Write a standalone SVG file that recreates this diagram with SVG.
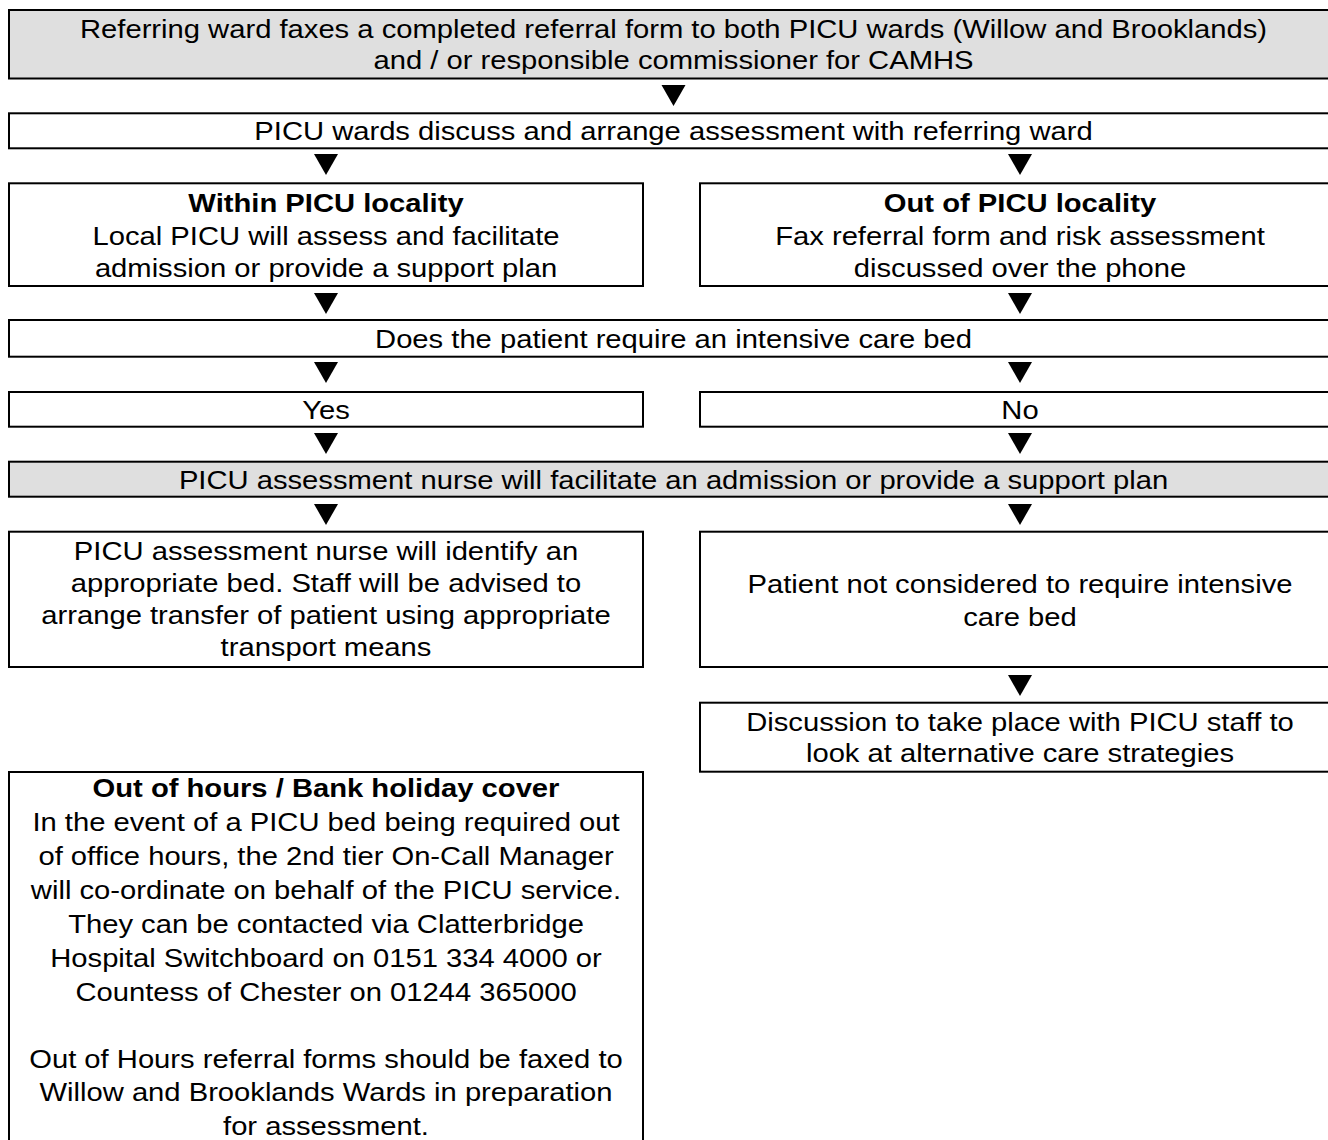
<svg xmlns="http://www.w3.org/2000/svg" xmlns:xlink="http://www.w3.org/1999/xlink" width="1328" height="1140" viewBox="0 0 1328 1140">
<style>
.box{fill:#ffffff;stroke:#000000;stroke-width:2}
.grey{fill:#dfdfdf}
text{font-family:"Liberation Sans",Arial,sans-serif;font-size:26px;fill:#000000;text-anchor:middle}
.b{font-weight:bold}
</style>
<defs>
<path id="tri" d="M-12,0 L12,0 L0,21 Z" fill="#000000"/>
</defs>
<rect width="1328" height="1140" fill="#ffffff"/>

<g id="connectors">
<use xlink:href="#tri" x="673.5" y="85"/>
<use xlink:href="#tri" x="326" y="154"/>
<use xlink:href="#tri" x="1020" y="154"/>
<use xlink:href="#tri" x="326" y="293"/>
<use xlink:href="#tri" x="1020" y="293"/>
<use xlink:href="#tri" x="326" y="362"/>
<use xlink:href="#tri" x="1020" y="362"/>
<use xlink:href="#tri" x="326" y="433"/>
<use xlink:href="#tri" x="1020" y="433"/>
<use xlink:href="#tri" x="326" y="504"/>
<use xlink:href="#tri" x="1020" y="504"/>
<use xlink:href="#tri" x="1020" y="675"/>
</g>

<g id="n-referral">
<rect class="box grey" x="9" y="10" width="1331" height="68.5"/>
<g transform="translate(673.5 0) scale(1.123 1)">
<text x="0" y="38.5">Referring ward faxes a completed referral form to both PICU wards (Willow and Brooklands)</text>
<text x="0" y="69">and / or responsible commissioner for CAMHS</text>
</g>
</g>

<g id="n-discuss">
<rect class="box" x="9" y="113.3" width="1331" height="35"/>
<g transform="translate(673.5 0) scale(1.123 1)">
<text x="0" y="140">PICU wards discuss and arrange assessment with referring ward</text>
</g>
</g>

<g id="n-within">
<rect class="box" x="9" y="183.3" width="634" height="102.7"/>
<g transform="translate(326 0) scale(1.123 1)">
<text class="b" x="0" y="212">Within PICU locality</text>
<text x="0" y="245">Local PICU will assess and facilitate</text>
<text x="0" y="277">admission or provide a support plan</text>
</g>
</g>

<g id="n-out">
<rect class="box" x="700" y="183.3" width="640" height="102.7"/>
<g transform="translate(1020 0) scale(1.123 1)">
<text class="b" x="0" y="212">Out of PICU locality</text>
<text x="0" y="245">Fax referral form and risk assessment</text>
<text x="0" y="277">discussed over the phone</text>
</g>
</g>

<g id="n-question">
<rect class="box" x="9" y="320" width="1331" height="36.7"/>
<g transform="translate(673.5 0) scale(1.123 1)">
<text x="0" y="348">Does the patient require an intensive care bed</text>
</g>
</g>

<g id="n-yes">
<rect class="box" x="9" y="392" width="634" height="34.7"/>
<g transform="translate(326 0) scale(1.123 1)">
<text x="0" y="419">Yes</text>
</g>
</g>

<g id="n-no">
<rect class="box" x="700" y="392" width="640" height="34.7"/>
<g transform="translate(1020 0) scale(1.123 1)">
<text x="0" y="419">No</text>
</g>
</g>

<g id="n-nurse">
<rect class="box grey" x="9" y="461.7" width="1331" height="35"/>
<g transform="translate(673.5 0) scale(1.123 1)">
<text x="0" y="489">PICU assessment nurse will facilitate an admission or provide a support plan</text>
</g>
</g>

<g id="n-identify">
<rect class="box" x="9" y="531.7" width="634" height="135.3"/>
<g transform="translate(326 0) scale(1.123 1)">
<text x="0" y="560">PICU assessment nurse will identify an</text>
<text x="0" y="592">appropriate bed. Staff will be advised to</text>
<text x="0" y="624">arrange transfer of patient using appropriate</text>
<text x="0" y="656.5">transport means</text>
</g>
</g>

<g id="n-notrequired">
<rect class="box" x="700" y="531.7" width="640" height="135.3"/>
<g transform="translate(1020 0) scale(1.123 1)">
<text x="0" y="593.5">Patient not considered to require intensive</text>
<text x="0" y="626">care bed</text>
</g>
</g>

<g id="n-alternative">
<rect class="box" x="700" y="702.7" width="640" height="69"/>
<g transform="translate(1020 0) scale(1.123 1)">
<text x="0" y="731">Discussion to take place with PICU staff to</text>
<text x="0" y="762">look at alternative care strategies</text>
</g>
</g>

<g id="n-outofhours">
<rect class="box" x="9" y="772" width="634" height="400"/>
<g transform="translate(326 0) scale(1.123 1)">
<text class="b" x="0" y="797.5">Out of hours / Bank holiday cover</text>
<text x="0" y="831.5">In the event of a PICU bed being required out</text>
<text x="0" y="865">of office hours, the 2nd tier On-Call Manager</text>
<text x="0" y="899">will co-ordinate on behalf of the PICU service.</text>
<text x="0" y="933">They can be contacted via Clatterbridge</text>
<text x="0" y="967">Hospital Switchboard on 0151 334 4000 or</text>
<text x="0" y="1001">Countess of Chester on 01244 365000</text>
<text x="0" y="1068">Out of Hours referral forms should be faxed to</text>
<text x="0" y="1101.5">Willow and Brooklands Wards in preparation</text>
<text x="0" y="1135">for assessment.</text>
</g>
</g>
</svg>
